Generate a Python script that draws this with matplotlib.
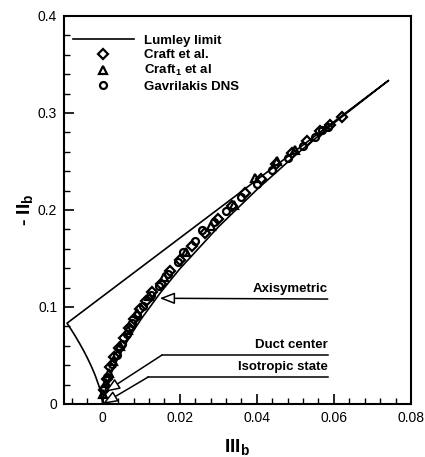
import matplotlib
matplotlib.use("Agg")
import matplotlib.pyplot as plt
from matplotlib.ticker import MultipleLocator, FixedLocator, FuncFormatter

# ─── Data ─────────────────────────────────────────────────────────────────────

# Lumley triangle boundary: two-component line, then the two axisymmetric branches
lumley_iii = [0.0741, -0.00926, -0.008, -0.007, -0.006, -0.005, -0.004, -0.003,
              -0.002, -0.001, -0.0005, 0.0, 0.0001, 0.0005, 0.001, 0.002, 0.004,
              0.006, 0.008, 0.010, 0.015, 0.020, 0.030, 0.040, 0.050, 0.060, 0.0741]
lumley_ii = [0.3333, 0.0833, 0.0756, 0.0692, 0.0624, 0.0553, 0.0476, 0.0393,
             0.0300, 0.0189, 0.0119, 0.0, 0.0041, 0.0119, 0.0189, 0.0300, 0.0476,
             0.0624, 0.0756, 0.0877, 0.1149, 0.1393, 0.1825, 0.2210, 0.2565, 0.2896, 0.3333]

craft_iii = [0.0003, 0.0010, 0.0020, 0.0030, 0.0042, 0.0055, 0.0068, 0.0082, 0.0096,
             0.0112, 0.0128, 0.0150, 0.0175, 0.0200, 0.0232, 0.0265, 0.0300, 0.0335,
             0.0370, 0.0410, 0.0450, 0.0490, 0.0530, 0.0565, 0.0590, 0.0620]
craft_ii = [0.014, 0.026, 0.038, 0.048, 0.058, 0.068, 0.078, 0.088, 0.098,
            0.106, 0.115, 0.124, 0.137, 0.148, 0.163, 0.176, 0.191, 0.204,
            0.218, 0.232, 0.247, 0.259, 0.271, 0.281, 0.288, 0.296]

craft1_iii = [0.0002, 0.0008, 0.0016, 0.0028, 0.0045, 0.0065, 0.0090, 0.0120,
              0.0160, 0.0215, 0.0280, 0.0340, 0.0395, 0.0452, 0.0500]
craft1_ii = [0.010, 0.022, 0.032, 0.044, 0.060, 0.076, 0.094, 0.111,
             0.131, 0.157, 0.183, 0.205, 0.233, 0.250, 0.262]

gav_iii = [0.0004, 0.0012, 0.0024, 0.0036, 0.0050, 0.0062, 0.0076, 0.0090, 0.0105,
           0.0125, 0.0145, 0.0170, 0.0195, 0.0209, 0.0240, 0.0257, 0.0290, 0.0320,
           0.0360, 0.0400, 0.0440, 0.0480, 0.0520, 0.0550, 0.0570, 0.0585]
gav_ii = [0.016, 0.028, 0.041, 0.051, 0.062, 0.072, 0.083, 0.092, 0.101,
          0.112, 0.122, 0.134, 0.146, 0.157, 0.168, 0.179, 0.188, 0.199,
          0.213, 0.227, 0.241, 0.254, 0.266, 0.275, 0.282, 0.286]

# ─── Setup ────────────────────────────────────────────────────────────────────

NARROW = ["Liberation Sans Narrow", "DejaVu Sans Condensed", "Liberation Sans"]

plt.rcParams.update({
    "font.family": ["Liberation Sans", "DejaVu Sans"],
    "font.size": 10,
    "axes.linewidth": 1.5,
    "xtick.direction": "in",
    "ytick.direction": "in",
})

fig = plt.figure(figsize=(4.25, 4.57), dpi=100)
ax = fig.add_axes([0.151, 0.116, 0.816, 0.849])

# ─── Curves & markers ─────────────────────────────────────────────────────────

ax.plot(lumley_iii, lumley_ii, color="black", lw=1.2, label="Lumley limit")
ax.plot(craft_iii, craft_ii, ls="none", marker="D", ms=5, mfc="none", mec="black",
        mew=1.6, label="Craft et al.")
ax.plot(craft1_iii, craft1_ii, ls="none", marker="^", ms=6, mfc="none", mec="black",
        mew=1.6, label=r"Craft$_\mathregular{1}$ et al")
ax.plot(gav_iii, gav_ii, ls="none", marker="o", ms=5, mfc="none", mec="black",
        mew=1.6, label="Gavrilakis DNS")

# ─── Annotations ──────────────────────────────────────────────────────────────

ARROW = dict(arrowstyle="-|>,head_length=0.9,head_width=0.35", fc="white",
             ec="black", lw=1.1, shrinkA=0, shrinkB=0)
notes = [
    ("Axisymetric", 0.1082, None, (0.0148, 0.1090)),
    ("Duct center", 0.0505, 0.0154, (0.0006, 0.0124)),
    ("Isotropic state", 0.0278, 0.0118, (0.0, 0.0)),
]
x_end = 0.0584
for text, y, x_corner, tip in notes:
    if x_corner is None:
        start = (x_end, y)
    else:
        ax.plot([x_end, x_corner], [y, y], color="black", lw=1.1)
        start = (x_corner, y)
    ax.annotate("", xy=tip, xytext=start, arrowprops=ARROW)
    ax.text(x_end, y + 0.004, text, ha="right", va="bottom", fontsize=9.5,
            fontweight="bold", family=NARROW)

# ─── Axes ─────────────────────────────────────────────────────────────────────

ax.set_xlim(-0.01, 0.08)
ax.set_ylim(0, 0.4)
ax.xaxis.set_major_locator(FixedLocator([0, 0.02, 0.04, 0.06, 0.08]))
ax.xaxis.set_minor_locator(MultipleLocator(0.004))
ax.yaxis.set_major_locator(MultipleLocator(0.1))
ax.yaxis.set_minor_locator(MultipleLocator(0.02))
fmt = FuncFormatter(lambda v, p: "0" if abs(v) < 1e-12 else f"{v:g}")
ax.xaxis.set_major_formatter(fmt)
ax.yaxis.set_major_formatter(fmt)
ax.tick_params(which="major", length=7, width=1.2, labelsize=10, pad=5)
ax.tick_params(which="minor", length=4, width=1.0)

ax.set_xlabel(r"III$_\mathregular{b}$", fontsize=14, fontweight="bold", labelpad=9)
ax.set_ylabel(r"- II$_\mathregular{b}$", fontsize=14, fontweight="bold", labelpad=1)

ax.legend(loc="upper left", bbox_to_anchor=(-0.009, 0.982), frameon=False,
          handlelength=4.6, handletextpad=0.8, labelspacing=0.15,
          prop={"family": NARROW, "weight": "bold", "size": 9.5})

fig.savefig("out.png", dpi=100)
